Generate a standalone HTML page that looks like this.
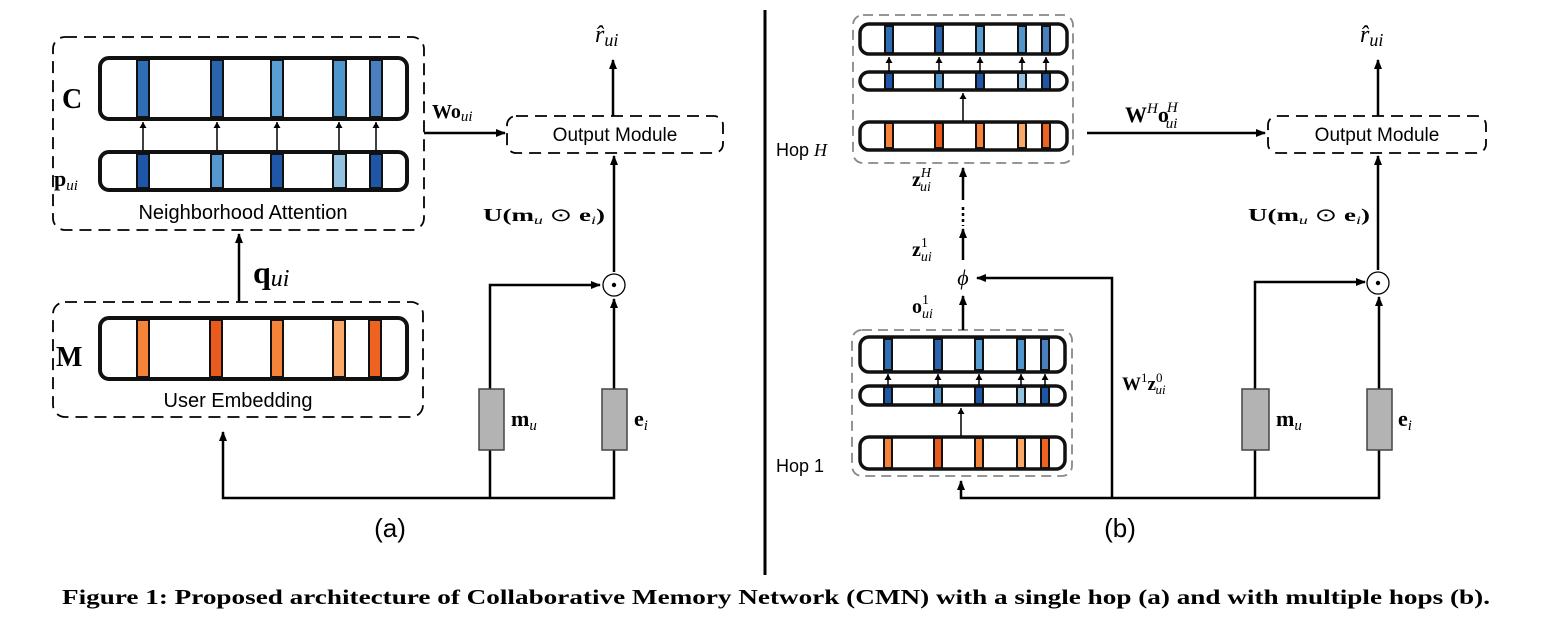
<!DOCTYPE html>
<html><head><meta charset="utf-8"><style>
html,body{margin:0;padding:0;background:#fff;}
svg{display:block;}
.m{font-family:"Liberation Serif",serif;}
.s{font-family:"Liberation Sans",sans-serif;}
</style></head><body>
<svg width="1554" height="638" viewBox="0 0 1554 638" xmlns="http://www.w3.org/2000/svg">
<defs>
<marker id="ah" markerWidth="10" markerHeight="10" refX="9" refY="5" orient="auto" markerUnits="userSpaceOnUse" viewBox="0 0 10 10">
<path d="M0,1 L10,5 L0,9 z" fill="#000"/></marker>
<marker id="as" markerWidth="6" markerHeight="7" refX="6" refY="3.5" orient="auto" markerUnits="userSpaceOnUse" viewBox="0 0 6 7">
<path d="M0,0 L6,3.5 L0,7 z" fill="#000"/></marker>
</defs>
<g fill="none" stroke="#000">
<rect x="53" y="37" width="371" height="193" rx="12" stroke-width="1.8" stroke-dasharray="12,7"/>
<rect x="53" y="302" width="370" height="115" rx="12" stroke-width="1.8" stroke-dasharray="12,7"/>
<rect x="507" y="116" width="216" height="37" rx="9" stroke-width="1.8" stroke-dasharray="12,7"/>
<rect x="853" y="15" width="220" height="148" rx="10" stroke="#888" stroke-width="1.8" stroke-dasharray="10,6"/>
<rect x="852" y="330" width="220" height="146" rx="10" stroke="#888" stroke-width="1.8" stroke-dasharray="10,6"/>
<rect x="1268" y="116" width="218" height="37" rx="9" stroke-width="1.8" stroke-dasharray="12,7"/>
</g>
<g stroke="#111" stroke-width="2">
<rect x="137" y="60" width="12" height="57" fill="#2f6db5"/>
<rect x="211" y="60" width="12" height="57" fill="#2a63ae"/>
<rect x="271" y="60" width="12" height="57" fill="#5a9fd4"/>
<rect x="333" y="60" width="13" height="57" fill="#4f96cc"/>
<rect x="370" y="60" width="12" height="57" fill="#4a7fbf"/>
<rect x="137" y="154" width="12" height="34" fill="#1f56a8"/>
<rect x="211" y="154" width="12" height="34" fill="#5597cf"/>
<rect x="271" y="154" width="12" height="34" fill="#1f56a8"/>
<rect x="333" y="154" width="13" height="34" fill="#93c1e0"/>
<rect x="370" y="154" width="12" height="34" fill="#1f56a8"/>
<rect x="137" y="320" width="12" height="57" fill="#f5843a"/>
<rect x="210" y="320" width="12" height="57" fill="#e95a1c"/>
<rect x="271" y="320" width="12" height="57" fill="#f5843a"/>
<rect x="333" y="320" width="12" height="57" fill="#f9a868"/>
<rect x="369" y="320" width="12" height="57" fill="#ee6322"/>
</g>
<g fill="none" stroke="#111" stroke-width="4">
<rect x="100" y="58" width="307" height="61" rx="9"/>
<rect x="100" y="152" width="307" height="38" rx="9"/>
<rect x="100" y="318" width="307" height="61" rx="9"/>
</g>
<g stroke="#000" stroke-width="1.5" marker-end="url(#as)">
<line x1="143" y1="150" x2="143" y2="122"/><line x1="217" y1="150" x2="217" y2="122"/>
<line x1="277" y1="150" x2="277" y2="122"/><line x1="339" y1="150" x2="339" y2="122"/>
<line x1="376" y1="150" x2="376" y2="122"/>
</g>
<g stroke="#111" stroke-width="2">
<rect x="885" y="26" width="8" height="27" fill="#2f6db5"/><rect x="935" y="26" width="8" height="27" fill="#2a63ae"/>
<rect x="976" y="26" width="8" height="27" fill="#5a9fd4"/><rect x="1018" y="26" width="8" height="27" fill="#4f96cc"/>
<rect x="1042" y="26" width="8" height="27" fill="#4a7fbf"/>
<rect x="885" y="73" width="8" height="16" fill="#1f56a8"/><rect x="935" y="73" width="8" height="16" fill="#5597cf"/>
<rect x="976" y="73" width="8" height="16" fill="#1f56a8"/><rect x="1018" y="73" width="8" height="16" fill="#93c1e0"/>
<rect x="1042" y="73" width="8" height="16" fill="#1f56a8"/>
<rect x="885" y="123" width="8" height="25" fill="#f5843a"/><rect x="935" y="123" width="8" height="25" fill="#e95a1c"/>
<rect x="976" y="123" width="8" height="25" fill="#f5843a"/><rect x="1018" y="123" width="8" height="25" fill="#f9a868"/>
<rect x="1042" y="123" width="8" height="25" fill="#ee6322"/>
<rect x="884" y="339" width="8" height="31" fill="#2f6db5"/><rect x="934" y="339" width="8" height="31" fill="#2a63ae"/>
<rect x="975" y="339" width="8" height="31" fill="#5a9fd4"/><rect x="1017" y="339" width="8" height="31" fill="#4f96cc"/>
<rect x="1041" y="339" width="8" height="31" fill="#4a7fbf"/>
<rect x="884" y="387" width="8" height="17" fill="#1f56a8"/><rect x="934" y="387" width="8" height="17" fill="#5597cf"/>
<rect x="975" y="387" width="8" height="17" fill="#1f56a8"/><rect x="1017" y="387" width="8" height="17" fill="#93c1e0"/>
<rect x="1041" y="387" width="8" height="17" fill="#1f56a8"/>
<rect x="884" y="438" width="8" height="30" fill="#f5843a"/><rect x="934" y="438" width="8" height="30" fill="#e95a1c"/>
<rect x="975" y="438" width="8" height="30" fill="#f5843a"/><rect x="1017" y="438" width="8" height="30" fill="#f9a868"/>
<rect x="1041" y="438" width="8" height="30" fill="#ee6322"/>
</g>
<g fill="none" stroke="#111" stroke-width="3.5">
<rect x="860" y="24" width="207" height="30" rx="9"/>
<rect x="860" y="72" width="207" height="18" rx="9"/>
<rect x="860" y="122" width="207" height="28" rx="9"/>
<rect x="860" y="337" width="205" height="35" rx="9"/>
<rect x="860" y="386" width="205" height="19" rx="9"/>
<rect x="860" y="437" width="205" height="32" rx="9"/>
</g>
<g stroke="#000" stroke-width="1.5" marker-end="url(#as)">
<line x1="889" y1="72" x2="889" y2="57"/><line x1="939" y1="72" x2="939" y2="57"/>
<line x1="980" y1="72" x2="980" y2="57"/><line x1="1022" y1="72" x2="1022" y2="57"/>
<line x1="1046" y1="72" x2="1046" y2="57"/>
<line x1="888" y1="386" x2="888" y2="374"/><line x1="938" y1="386" x2="938" y2="374"/>
<line x1="979" y1="386" x2="979" y2="374"/><line x1="1021" y1="386" x2="1021" y2="374"/>
<line x1="1045" y1="386" x2="1045" y2="374"/>
<line x1="963" y1="121" x2="963" y2="93"/>
<line x1="961" y1="436" x2="961" y2="408"/>
</g>
<g fill="none" stroke="#000" stroke-width="2.5">
<line x1="239" y1="301" x2="239" y2="234" marker-end="url(#ah)"/>
<polyline points="490,389 490,285 600,285" marker-end="url(#ah)"/>
<line x1="614" y1="389" x2="614" y2="299" marker-end="url(#ah)"/>
<line x1="614" y1="272" x2="614" y2="156" marker-end="url(#ah)"/>
<line x1="613" y1="116" x2="613" y2="60" marker-end="url(#ah)"/>
<line x1="424" y1="133" x2="505" y2="133" marker-end="url(#ah)"/>
<polyline points="490,450 490,498"/><polyline points="614,450 614,498 223,498 223,432" marker-end="url(#ah)"/>
<line x1="765" y1="10" x2="765" y2="575" stroke-width="3"/>
<line x1="1087" y1="133" x2="1265" y2="133" marker-end="url(#ah)"/>
<line x1="1378" y1="116" x2="1378" y2="60" marker-end="url(#ah)"/>
<line x1="1378" y1="270" x2="1378" y2="156" marker-end="url(#ah)"/>
<line x1="1379" y1="389" x2="1379" y2="297" marker-end="url(#ah)"/>
<polyline points="1255,389 1255,282 1365,282" marker-end="url(#ah)"/>
<polyline points="1255,450 1255,498"/>
<polyline points="1379,450 1379,498 961,498 961,481" marker-end="url(#ah)"/>
<polyline points="1112,498 1112,278 977,278" marker-end="url(#ah)"/>
<line x1="963" y1="200" x2="963" y2="168" marker-end="url(#ah)"/>
<line x1="963" y1="207" x2="963" y2="226" stroke-dasharray="3,3"/>
<line x1="963" y1="260" x2="963" y2="229" marker-end="url(#ah)"/>
<line x1="963" y1="330" x2="963" y2="296" marker-end="url(#ah)"/>
</g>
<circle cx="614" cy="285" r="11" fill="none" stroke="#000" stroke-width="1.3"/><circle cx="614" cy="285" r="2.2" fill="#000"/>
<circle cx="1378" cy="283" r="11" fill="none" stroke="#000" stroke-width="1.3"/><circle cx="1378" cy="283" r="2.2" fill="#000"/>
<g fill="#b3b3b3" stroke="#444" stroke-width="1.5">
<rect x="479" y="389" width="25" height="61"/><rect x="602" y="389" width="25" height="61"/>
<rect x="1242" y="389" width="27" height="61"/><rect x="1367" y="389" width="25" height="61"/>
</g>
<g class="s" fill="#000">
<text x="243" y="219" font-size="20" text-anchor="middle">Neighborhood Attention</text>
<text x="238" y="407" font-size="20" text-anchor="middle">User Embedding</text>
<text x="615" y="141" font-size="19" text-anchor="middle">Output Module</text>
<text x="1377" y="141" font-size="19" text-anchor="middle">Output Module</text>
<text x="776" y="156" font-size="18">Hop <tspan class="m" font-style="italic">H</tspan></text>
<text x="776" y="472" font-size="18">Hop 1</text>
<text x="390" y="537" font-size="26" text-anchor="middle">(a)</text>
<text x="1120" y="537" font-size="26" text-anchor="middle">(b)</text>
</g>
<g class="m" fill="#000">
<text x="62" y="108" font-size="28" font-weight="bold">C</text>
<text x="54" y="186" font-size="22" font-weight="bold">p<tspan font-size="15" font-style="italic" font-weight="normal" dy="4">ui</tspan></text>
<text x="56" y="366" font-size="28" font-weight="bold">M</text>
<text x="253" y="283" font-size="32" font-weight="bold">q<tspan font-size="24" font-style="italic" font-weight="normal" dy="3">ui</tspan></text>
<text x="432" y="118" font-size="20" font-weight="bold">Wo<tspan font-size="15" font-style="italic" font-weight="normal" dy="3">ui</tspan></text>
<text x="595" y="42" font-size="24" font-style="italic">r̂<tspan font-size="18" dy="4">ui</tspan></text>
<text x="1360" y="42" font-size="24" font-style="italic">r̂<tspan font-size="18" dy="4">ui</tspan></text>
<text x="483" y="221" font-size="18" font-weight="bold" textLength="122" lengthAdjust="spacingAndGlyphs">U(m<tspan font-size="12" font-style="italic" font-weight="normal" dy="3">u</tspan><tspan dy="-3" font-weight="normal"> ⊙ </tspan>e<tspan font-size="12" font-style="italic" font-weight="normal" dy="3">i</tspan><tspan dy="-3">)</tspan></text>
<text x="1248" y="221" font-size="18" font-weight="bold" textLength="122" lengthAdjust="spacingAndGlyphs">U(m<tspan font-size="12" font-style="italic" font-weight="normal" dy="3">u</tspan><tspan dy="-3" font-weight="normal"> ⊙ </tspan>e<tspan font-size="12" font-style="italic" font-weight="normal" dy="3">i</tspan><tspan dy="-3">)</tspan></text>
<text x="511" y="426" font-size="22" font-weight="bold">m<tspan font-size="15" font-style="italic" font-weight="normal" dy="4">u</tspan></text>
<text x="634" y="426" font-size="22" font-weight="bold">e<tspan font-size="15" font-style="italic" font-weight="normal" dy="4">i</tspan></text>
<text x="1276" y="426" font-size="22" font-weight="bold">m<tspan font-size="15" font-style="italic" font-weight="normal" dy="4">u</tspan></text>
<text x="1398" y="426" font-size="22" font-weight="bold">e<tspan font-size="15" font-style="italic" font-weight="normal" dy="4">i</tspan></text>
<text x="1125" y="122" font-size="22" font-weight="bold">W<tspan font-size="15" font-style="italic" font-weight="normal" dy="-9">H</tspan><tspan dy="9">o</tspan><tspan font-size="15" font-style="italic" font-weight="normal" dx="-2" dy="-10">H</tspan><tspan font-size="15" font-style="italic" font-weight="normal" dx="-12" dy="16">ui</tspan></text>
<text x="1122" y="390" font-size="19" font-weight="bold">W<tspan font-size="13" font-weight="normal" dy="-8">1</tspan><tspan dy="8">z</tspan><tspan font-size="13" font-weight="normal" dy="-8">0</tspan><tspan font-size="13" font-style="italic" font-weight="normal" dx="-7" dy="12">ui</tspan></text>
<text x="912" y="186" font-size="20" font-weight="bold">z<tspan font-size="14" font-style="italic" font-weight="normal" dy="-9">H</tspan><tspan font-size="14" font-style="italic" font-weight="normal" dx="-11" dy="14">ui</tspan></text>
<text x="912" y="256" font-size="20" font-weight="bold">z<tspan font-size="14" font-weight="normal" dy="-9">1</tspan><tspan font-size="14" font-style="italic" font-weight="normal" dx="-7" dy="14">ui</tspan></text>
<text x="912" y="313" font-size="20" font-weight="bold">o<tspan font-size="14" font-weight="normal" dy="-9">1</tspan><tspan font-size="14" font-style="italic" font-weight="normal" dx="-7" dy="14">ui</tspan></text>
<text x="963" y="285" font-size="22" font-style="italic" text-anchor="middle">ϕ</text>
<text x="62" y="604" font-size="21" font-weight="bold" textLength="1428" lengthAdjust="spacingAndGlyphs">Figure 1: Proposed architecture of Collaborative Memory Network (CMN) with a single hop (a) and with multiple hops (b).</text>
</g>
</svg>
</body></html>
